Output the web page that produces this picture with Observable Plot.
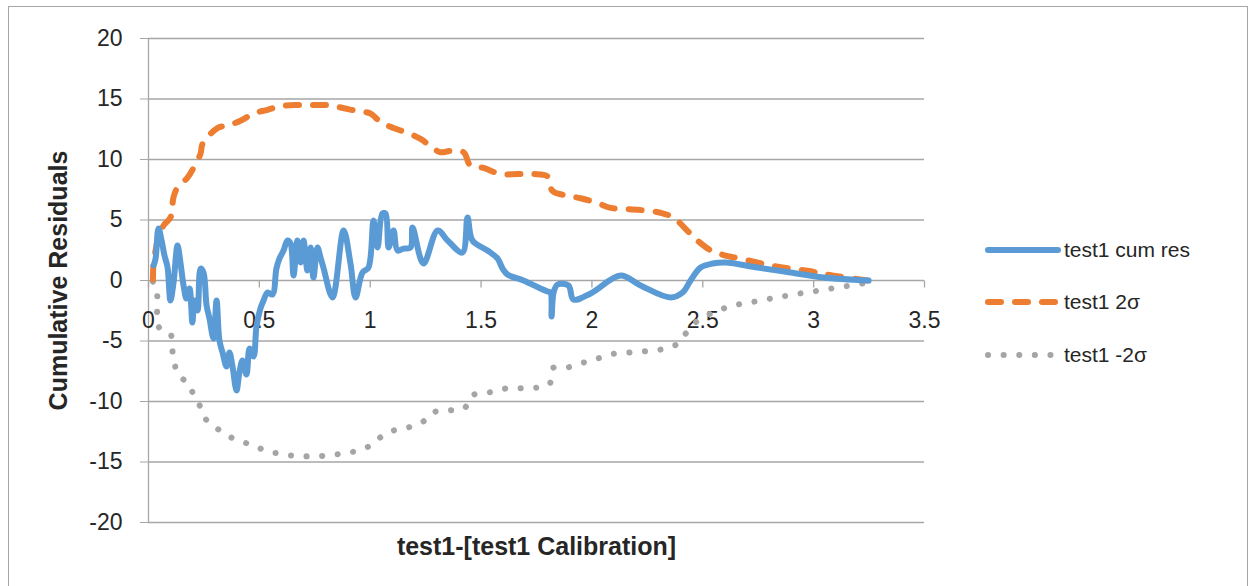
<!DOCTYPE html>
<html>
<head>
<meta charset="utf-8">
<script src="https://cdn.jsdelivr.net/npm/d3@7"></script>
<script src="https://cdn.jsdelivr.net/npm/@observablehq/plot@0.6"></script>
<style>
  html, body { margin: 0; padding: 0; background: #fff; }
  #wrap { position: relative; width: 1255px; height: 586px; overflow: hidden; }
  #border { position: absolute; left: 8px; top: 6px; width: 1240px; height: 600px; border: 1.5px solid #a6a6a6; box-sizing: border-box; }
  #legend { position: absolute; left: 0; top: 0; }
</style>
</head>
<body>
<div id="wrap"><div id="border"></div></div>
<script>
// ---- data ----
const xTicks = [0, 0.5, 1, 1.5, 2, 2.5, 3, 3.5];
const xTickLabels = ["0", "0.5", "1", "1.5", "2", "2.5", "3", "3.5"];
const yTicks = [-20, -15, -10, -5, 0, 5, 10, 15, 20];
const yTickLabels = ["-20", "-15", "-10", "-5", "0", "5", "10", "15", "20"];
const seriesNames = ["test1 cum res", "test1 2σ", "test1 -2σ"];
const xLabel = "test1-[test1 Calibration]";
const yLabel = "Cumulative Residuals";

const cumResX = [0.023,0.032,0.045,0.059,0.072,0.086,0.099,0.113,0.131,0.144,0.158,0.171,0.185,0.198,0.207,0.221,0.235,0.248,0.262,0.275,0.293,0.307,0.320,0.334,0.352,0.365,0.379,0.397,0.410,0.424,0.442,0.456,0.474,0.487,0.505,0.519,0.537,0.559,0.577,0.591,0.609,0.627,0.641,0.654,0.672,0.686,0.699,0.717,0.731,0.744,0.762,0.776,0.789,0.830,0.880,0.911,0.934,0.965,0.992,1.015,1.033,1.055,1.069,1.083,1.105,1.123,1.150,1.182,1.191,1.240,1.304,1.349,1.416,1.439,1.461,1.529,1.574,1.597,1.619,1.691,1.768,1.800,1.813,1.818,1.827,1.845,1.894,1.917,1.994,2.129,2.219,2.355,2.409,2.445,2.490,2.544,2.603,2.747,2.896,3.045,3.248];
const cumResY = [1.24,1.82,4.30,3.31,2.07,1.07,-1.65,-0.17,2.89,1.49,-0.41,-1.49,-0.66,-3.47,-1.65,-2.48,0.99,0.66,-2.07,-3.14,-4.79,-1.65,-4.96,-5.95,-7.11,-5.95,-7.11,-9.09,-7.60,-6.61,-7.77,-5.62,-6.28,-3.80,-2.31,-1.65,-0.99,-1.16,0.99,1.82,2.48,3.31,3.06,0.41,3.31,1.49,3.31,0.83,2.73,0.25,2.73,1.90,1.07,-1.40,4.13,1.40,-1.40,0.66,1.07,4.96,2.73,5.54,5.54,2.73,4.13,2.48,2.64,2.73,4.38,1.40,4.13,3.31,2.31,5.21,3.31,2.48,1.82,0.99,0.50,0.00,-0.66,-0.91,-1.00,-2.98,-1.00,-0.33,-0.41,-1.57,-1.07,0.41,-0.41,-1.40,-0.99,0.00,1.07,1.40,1.49,1.07,0.66,0.25,0.00];

const upperX = [0.020,0.023,0.032,0.045,0.070,0.099,0.113,0.131,0.176,0.203,0.235,0.244,0.311,0.356,0.415,0.474,0.537,0.595,0.672,0.744,0.807,0.866,0.943,1.001,1.047,1.105,1.168,1.227,1.286,1.317,1.362,1.421,1.452,1.511,1.588,1.664,1.737,1.800,1.822,1.890,1.949,2.025,2.084,2.161,2.233,2.309,2.368,2.431,2.476,2.535,2.594,2.670,2.819,2.972,3.090,3.243];
const upperY = [0.1,1.5,2.5,3.6,4.6,5.2,6.9,7.7,8.5,9.3,10.5,11.3,12.6,12.8,13.2,13.8,14.1,14.4,14.5,14.5,14.5,14.3,14.0,13.8,13.1,12.6,12.2,11.7,10.9,10.6,10.7,10.6,9.5,9.3,8.8,8.8,8.8,8.6,7.4,7.0,6.8,6.4,6.0,5.9,5.8,5.6,5.2,4.1,3.3,2.5,2.1,1.8,1.2,0.8,0.4,0.0];

const lowerX = [0.020,0.032,0.040,0.047,0.099,0.107,0.114,0.137,0.182,0.204,0.235,0.257,0.302,0.355,0.415,0.475,0.532,0.598,0.671,0.743,0.813,0.881,0.949,1.009,1.047,1.104,1.167,1.235,1.287,1.359,1.425,1.460,1.530,1.602,1.673,1.745,1.809,1.825,1.893,1.963,2.031,2.098,2.171,2.242,2.312,2.381,2.426,2.474,2.540,2.602,2.673,2.745,2.815,2.885,2.955,3.027,3.098,3.169,3.241,3.250];
const lowerY = [-0.1,-0.4,-1.38,-3.86,-4.41,-5.65,-6.61,-7.85,-8.54,-9.50,-10.47,-11.43,-12.12,-12.81,-13.28,-13.64,-14.10,-14.32,-14.52,-14.52,-14.46,-14.27,-14.05,-13.55,-12.95,-12.40,-12.17,-11.71,-10.88,-10.74,-10.55,-9.50,-9.28,-8.95,-8.90,-8.87,-8.54,-7.22,-7.17,-6.78,-6.42,-6.06,-5.95,-5.84,-5.70,-5.29,-4.32,-3.36,-2.70,-2.26,-1.93,-1.71,-1.46,-1.24,-1.02,-0.83,-0.60,-0.41,-0.14,0.0];

// ---- styles ----
const BLUE = "#5B9BD5", ORANGE = "#ED7D31", GRAY = "#A5A5A5";
const GRID = "#a6a6a6", TEXT = "#262626";
const FONT = "'Liberation Sans', Arial, sans-serif";

const cumRes = cumResX.map((x, i) => ({x, y: cumResY[i]}));
const upper = upperX.map((x, i) => ({x, y: upperY[i]}));
const lower = lowerX.map((x, i) => ({x, y: lowerY[i]}));

const tickDown = { draw(ctx) { ctx.moveTo(0, 0); ctx.lineTo(0, 7); } };

const chart = Plot.plot({
  width: 1255,
  height: 586,
  marginLeft: 148,
  marginRight: 331,
  marginTop: 38,
  marginBottom: 64,
  style: { fontFamily: FONT, fontSize: "23px", color: TEXT, background: "transparent" },
  x: { domain: [0, 3.5], axis: null },
  y: { domain: [-20, 20] },
  marks: [
    Plot.ruleY(yTicks, { stroke: GRID, strokeWidth: 1.3 }),
    Plot.ruleX([0], { stroke: GRID, strokeWidth: 1.3 }),
    Plot.axisY(yTicks, { tickSize: 8, tickPadding: 18, stroke: GRID, fill: TEXT, fontSize: 23, label: null,
      tickFormat: d => yTickLabels[yTicks.indexOf(d)] }),
    Plot.dot(xTicks, { x: d => d, y: 0, symbol: tickDown, fill: "none", stroke: GRID, strokeWidth: 1.3, r: 3 }),
    Plot.text(xTicks, { x: d => d, y: 0, text: (d, i) => xTickLabels[i], dy: 40, fill: TEXT, fontSize: 23 }),
    Plot.line(lower, { x: "x", y: "y", stroke: GRAY, strokeWidth: 6, strokeDasharray: "0.1,15.5", strokeLinecap: "round", curve: "catmull-rom" }),
    Plot.line(upper, { x: "x", y: "y", stroke: ORANGE, strokeWidth: 6, strokeDasharray: "13,14", strokeLinecap: "round", curve: "catmull-rom" }),
    Plot.line(cumRes, { x: "x", y: "y", stroke: BLUE, strokeWidth: 6, strokeLinejoin: "round", strokeLinecap: "round", curve: "catmull-rom" }),
    Plot.text([yLabel], { frameAnchor: "left", textAnchor: "middle", dx: -90, rotate: -90, fontWeight: "bold", fontSize: 25, fill: TEXT }),
    Plot.text([xLabel], { frameAnchor: "bottom", dy: 32, fontWeight: "bold", fontSize: 25, fill: TEXT })
  ]
});
const wrap = document.getElementById("wrap");
chart.style.position = "absolute";
chart.style.left = "0px";
chart.style.top = "0px";
wrap.appendChild(chart);

// ---- legend ----
const ns = "http://www.w3.org/2000/svg";
const leg = document.createElementNS(ns, "svg");
leg.setAttribute("id", "legend");
leg.setAttribute("width", 1255);
leg.setAttribute("height", 586);
const entries = [
  { name: seriesNames[0], color: BLUE, dash: null, y: 250 },
  { name: seriesNames[1], color: ORANGE, dash: "13,14", y: 302 },
  { name: seriesNames[2], color: GRAY, dash: "0.1,15.5", y: 355 }
];
entries.forEach(e => {
  const l = document.createElementNS(ns, "line");
  l.setAttribute("x1", 988); l.setAttribute("x2", 1058);
  l.setAttribute("y1", e.y); l.setAttribute("y2", e.y);
  l.setAttribute("stroke", e.color); l.setAttribute("stroke-width", 6);
  l.setAttribute("stroke-linecap", "round");
  if (e.dash) l.setAttribute("stroke-dasharray", e.dash);
  leg.appendChild(l);
  const t = document.createElementNS(ns, "text");
  t.setAttribute("x", 1064); t.setAttribute("y", e.y);
  t.setAttribute("dy", "0.35em");
  t.setAttribute("font-family", FONT); t.setAttribute("font-size", 21);
  t.setAttribute("fill", TEXT);
  t.textContent = e.name;
  leg.appendChild(t);
});
wrap.appendChild(leg);
</script>
</body>
</html>
